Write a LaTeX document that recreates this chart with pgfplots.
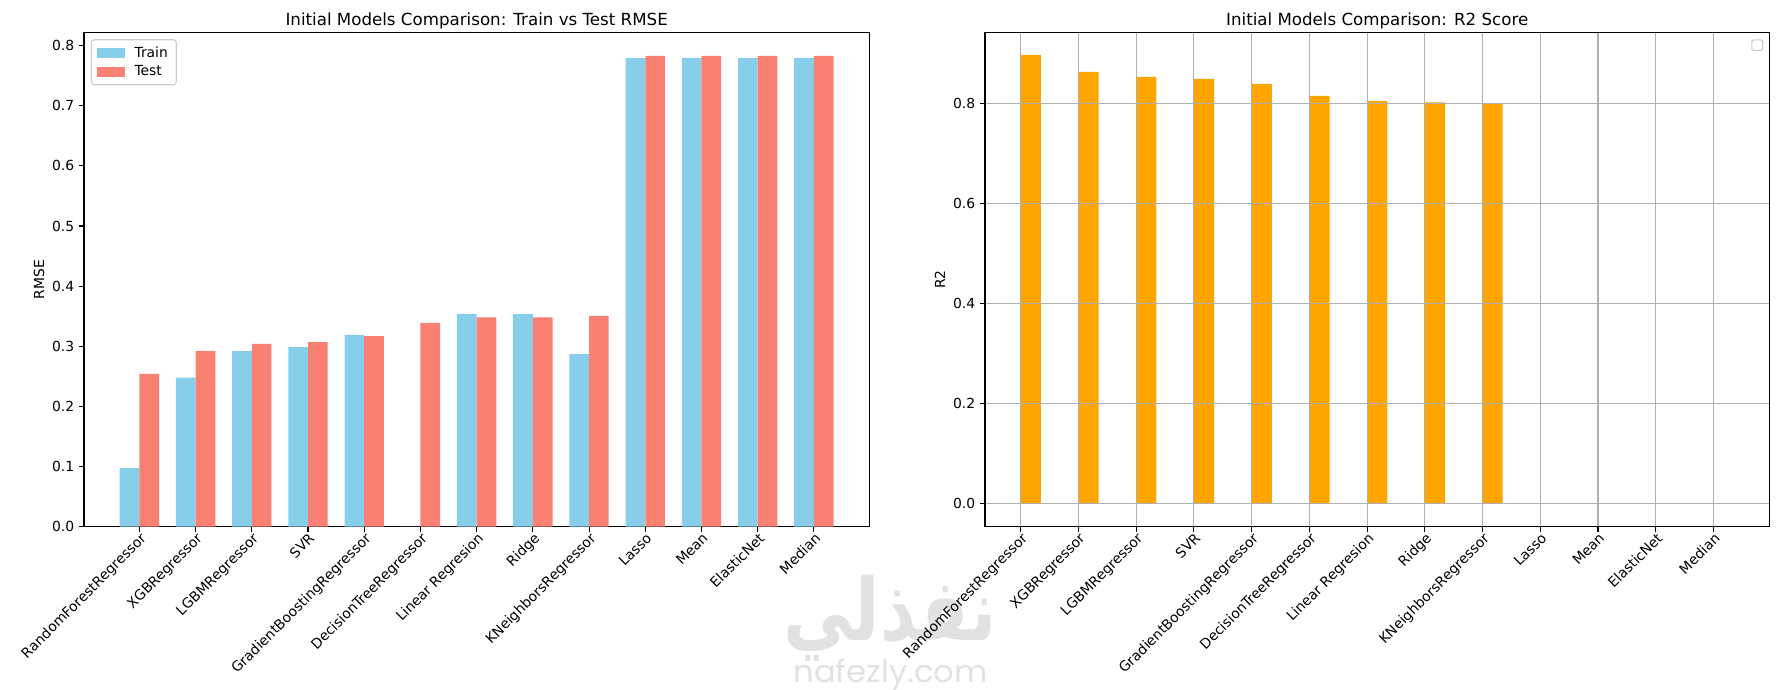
\documentclass[border=0pt]{standalone}
\usepackage{fontspec}
\setmainfont{DejaVu Sans}
\newfontfamily\arabicfont[Script=Arabic]{DejaVu Sans}
\newfontfamily\popfont{Poppins}
\usepackage{graphicx}
\usepackage{pgfplots}
\usepackage{pgfplotstable}
\pgfplotsset{compat=1.18}
\TeXXeTstate=1
\definecolor{skyblue}{HTML}{87CEEB}
\definecolor{salmon}{HTML}{FA8072}
\definecolor{mplorange}{HTML}{FFA500}
\definecolor{gridgray}{HTML}{B0B0B0}
\definecolor{wm}{HTML}{E2E2E2}

\pgfplotstableread{
x train test
0 0.0973 0.254
1 0.248 0.292
2 0.292 0.304
3 0.2985 0.307
4 0.319 0.317
5 0.0 0.339
6 0.354 0.348
7 0.354 0.348
8 0.287 0.3505
9 0.7795 0.783
10 0.7795 0.783
11 0.7795 0.783
12 0.7795 0.783
}\rmsetable

\pgfplotstableread{
x r2
0 0.8966
1 0.8627
2 0.8527
3 0.8487
4 0.8387
5 0.8146
6 0.8046
7 0.8020
8 0.7990
9 -0.0005
10 -0.0005
11 -0.0005
12 -0.0005
}\rtwotable

\pgfplotsset{
  mpl/.style={
    scale only axis,
    height=355.97pt,
    tick align=outside,
    tick pos=left,
    major tick length=3.5pt,
    tick style={black, line width=0.8pt},
    axis line style={black, line width=0.8pt},
    xtick={0,1,2,3,4,5,6,7,8,9,10,11,12},
    xticklabels={RandomForestRegressor, XGBRegressor, LGBMRegressor, SVR, GradientBoostingRegressor, DecisionTreeRegressor, Linear Regresion, Ridge, KNeighborsRegressor, Lasso, Mean, ElasticNet, Median},
    xticklabel style={font=\fontsize{10}{12}\selectfont, rotate=45, anchor=north east, inner sep=0pt},
    yticklabel style={font=\fontsize{10}{12}\selectfont, /pgf/number format/fixed, /pgf/number format/fixed zerofill, /pgf/number format/precision=1, /pgf/number format/assume math mode=true},
    scaled y ticks=false,
    title style={at={(0.5,1)}, anchor=base, inner sep=0pt, yshift=-1pt, font=\fontsize{12}{14}\selectfont},
    ylabel style={at={([xshift=-32.4pt]rel axis cs:0,0.5)}, anchor=center, inner sep=0pt, font=\fontsize{10}{12}\selectfont},
  }
}

\begin{document}
\begin{tikzpicture}
\useasboundingbox (0pt,0pt) rectangle (1280.88pt,-496.8pt);
% watermark
\node[text=wm, inner sep=0pt] at (640.8pt,-445pt) {\resizebox{154pt}{47pt}{\arabicfont\bfseries\beginR نفذلي\endR}};
\node[text=wm, inner sep=0pt] at (641.2pt,-485.5pt) {\resizebox{140pt}{17pt}{\popfont nafezly.com}};

\begin{axis}[mpl,
  at={(60.48pt,-23.26pt)}, anchor=north west,
  width=565.4pt,
  xmin=-0.985, xmax=12.985,
  ymin=0, ymax=0.822,
  ytick={0,0.1,0.2,0.3,0.4,0.5,0.6,0.7,0.8},
  title={Initial Models Comparison: Train vs Test RMSE},
  ylabel={RMSE},
  legend style={at={(0,1)}, anchor=north west, xshift=5pt, yshift=-5pt,
    draw=black!20, line width=0.8pt, rounded corners=2pt, fill=white,
    font=\fontsize{10}{12}\selectfont, inner xsep=4pt, inner ysep=3pt, row sep=0.5pt,
    /tikz/every odd column/.append style={column sep=5pt}},
  legend cell align=left,
]
\addplot[ybar, bar width=0.35, bar shift=0pt, fill=skyblue, draw=none,
  legend image code/.code={\fill[skyblue, sharp corners] (0pt,-3.6pt) rectangle (20pt,3.6pt);}]
  table[x expr=\thisrow{x}-0.175, y=train] {\rmsetable};
\addlegendentry{Train}
\addplot[ybar, bar width=0.35, bar shift=0pt, fill=salmon, draw=none,
  legend image code/.code={\fill[salmon, sharp corners] (0pt,-3.6pt) rectangle (20pt,3.6pt);}]
  table[x expr=\thisrow{x}+0.175, y=test] {\rmsetable};
\addlegendentry{Test}
\end{axis}

\begin{axis}[mpl,
  at={(709.2pt,-23.26pt)}, anchor=north west,
  width=564.7pt,
  xmin=-0.6175, xmax=12.9675,
  ymin=-0.047, ymax=0.942,
  ytick={0,0.2,0.4,0.6,0.8},
  xmajorgrids, ymajorgrids,
  grid style={gridgray, line width=0.8pt},
  axis on top,
  title={Initial Models Comparison: R2 Score},
  ylabel={R2},
]
\addplot[ybar, bar width=0.35, bar shift=0pt, fill=mplorange, draw=none]
  table[x expr=\thisrow{x}+0.175, y=r2] {\rtwotable};
\draw[black!20, line width=0.8pt, rounded corners=1.5pt]
  ([xshift=-4.75pt,yshift=-5.5pt]rel axis cs:1,1) rectangle ([xshift=-12.6pt,yshift=-13.1pt]rel axis cs:1,1);
\end{axis}
\end{tikzpicture}
\end{document}
